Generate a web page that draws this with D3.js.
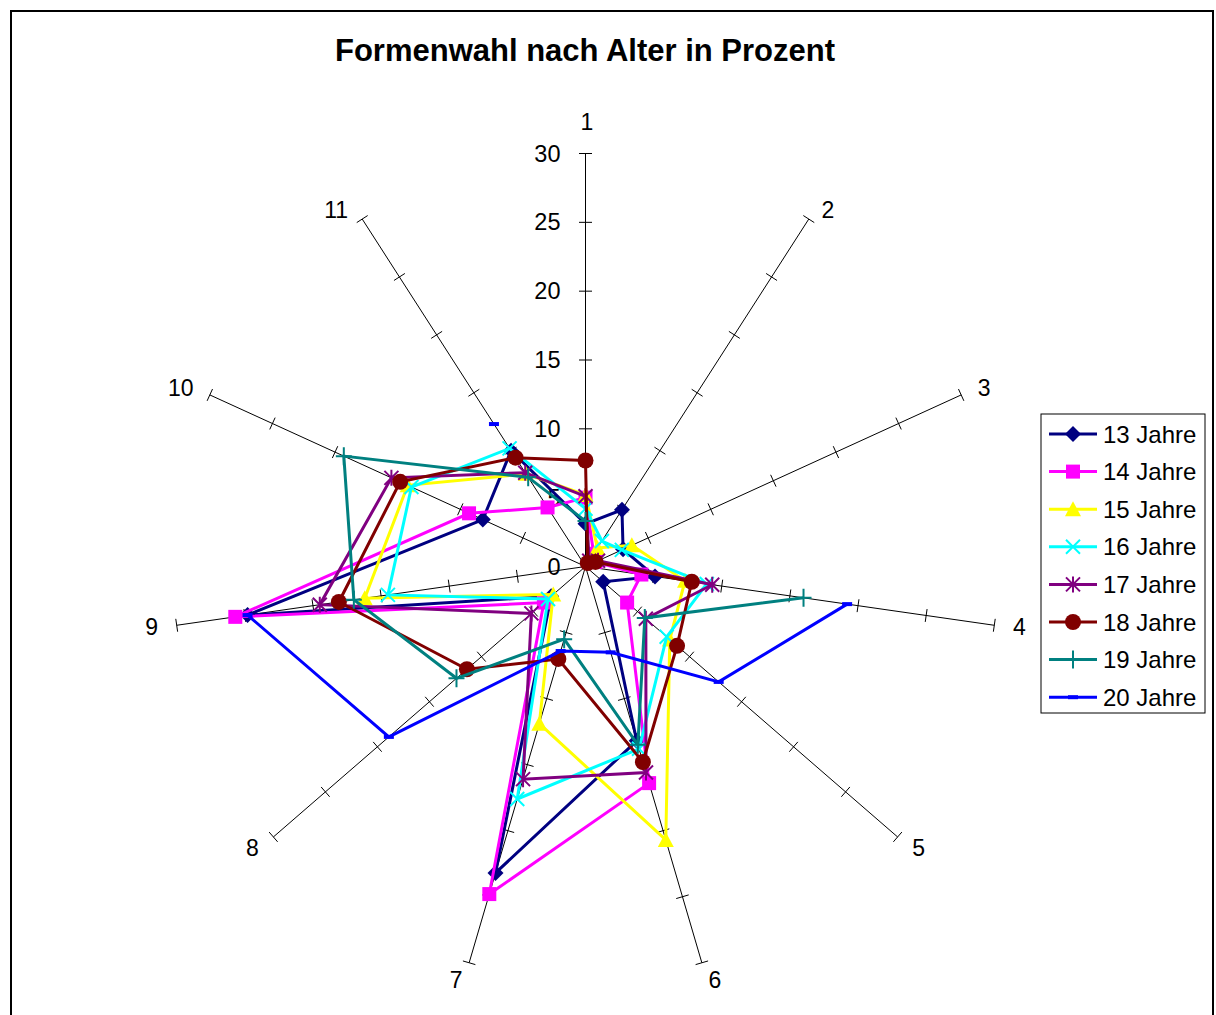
<!DOCTYPE html>
<html>
<head>
<meta charset="utf-8">
<script src="https://cdn.jsdelivr.net/npm/d3@7"></script>
<style>
  html, body { margin: 0; padding: 0; background: #fff; }
  svg { display: block; }
  text { font-family: "Liberation Sans", Arial, sans-serif; }
</style>
</head>
<body>
<svg id="chart" width="1216" height="1015"></svg>
<script>
const categories = ["1", "2", "3", "4", "5", "6", "7", "8", "9", "10", "11"];
const tickValues = [0, 5, 10, 15, 20, 25, 30];
const seriesNames = ["13 Jahre", "14 Jahre", "15 Jahre", "16 Jahre", "17 Jahre", "18 Jahre", "19 Jahre", "20 Jahre"];
const s13 = [3.1, 4.9, 3.0, 5.1, 1.7, 13.2, 23.2, 3.3, 24.8, 8.2, 10.0];
const s14 = [5.0, 1.1, 0.8, 4.1, 4.0, 16.4, 24.8, 4.0, 25.7, 9.3, 5.1];
const s15 = [5.2, 1.6, 3.7, 7.3, 8.1, 20.7, 11.9, 3.1, 16.2, 14.2, 8.0];
const s16 = [4.2, 2.2, 2.9, 8.9, 7.8, 13.8, 17.6, 3.6, 14.5, 13.9, 10.2];
const s17 = [5.1, 0.5, 1.0, 9.3, 5.8, 15.6, 16.1, 5.2, 19.5, 15.5, 8.1];
const s18 = [7.7, 0.3, 0.8, 7.8, 8.8, 14.8, 7.0, 11.4, 18.1, 14.8, 9.4];
const s19 = [3.3, null, null, 16.0, 5.7, 13.5, 5.5, 12.4, 17.0, 19.3, 7.7];
const s20 = [null, null, null, 19.2, 12.8, 6.5, 6.4, 18.9, 24.8, null, 12.3];
const seriesValues = [s13, s14, s15, s16, s17, s18, s19, s20];
const colors = ["#000080", "#FF00FF", "#FFFF00", "#00FFFF", "#800080", "#800000", "#008080", "#0000FF"];
const markers = ["diamond", "square", "triangle", "x", "asterisk", "circle", "plus", "dash"];

// layout: category label offsets from the spoke ends (px)
const labelOffsets = [[1.5, -31.5], [19, -9], [23, -7], [25, 2], [21, 11], [13, 17],
                      [-13, 17], [-21, 11], [-25, 2], [-29, -7], [-26, -9]];

const svg = d3.select("#chart");
const cx = 585.5, cy = 566.5, R = 413;

svg.append("rect").attr("x", 11).attr("y", 11).attr("width", 1202).attr("height", 1040)
  .attr("fill", "none").attr("stroke", "#000").attr("stroke-width", 2);

svg.append("text").attr("x", 585).attr("y", 50).attr("text-anchor", "middle")
  .attr("dominant-baseline", "central").attr("font-size", 31).attr("font-weight", "bold")
  .text("Formenwahl nach Alter in Prozent");

const r = d3.scaleLinear().domain([0, 30]).range([0, R]);
const angle = d3.scaleLinear().domain([0, categories.length]).range([0, 2 * Math.PI]);
const px = (i, v) => cx + r(v) * Math.sin(angle(i));
const py = (i, v) => cy - r(v) * Math.cos(angle(i));

const g = svg.append("g");

categories.forEach((c, i) => {
  g.append("line").attr("x1", cx).attr("y1", cy).attr("x2", px(i, 30)).attr("y2", py(i, 30))
    .attr("stroke", "#000").attr("stroke-width", 1);
  tickValues.slice(1).forEach(t => {
    const a = angle(i);
    const x = px(i, t), y = py(i, t);
    const nx = Math.cos(a) * 6.5, ny = Math.sin(a) * 6.5;
    g.append("line").attr("x1", x - nx).attr("y1", y - ny).attr("x2", x + nx).attr("y2", y + ny)
      .attr("stroke", "#000").attr("stroke-width", 1);
  });
  g.append("text")
    .attr("x", px(i, 30) + labelOffsets[i][0])
    .attr("y", py(i, 30) + labelOffsets[i][1])
    .attr("text-anchor", "middle").attr("dominant-baseline", "central")
    .attr("font-size", 23).text(c);
});

tickValues.forEach(t => {
  g.append("text").attr("x", cx - 25).attr("y", py(0, t)).attr("text-anchor", "end")
    .attr("dominant-baseline", "central").attr("font-size", 23.5).text(t);
});

function drawMarker(sel, type, color, x, y) {
  const gg = sel.append("g").attr("transform", `translate(${x},${y})`);
  const S = 7;
  if (type === "diamond") {
    gg.append("path").attr("d", `M0,${-S - 1}L${S + 1},0L0,${S + 1}L${-S - 1},0Z`).attr("fill", color);
  } else if (type === "square") {
    gg.append("rect").attr("x", -S).attr("y", -S).attr("width", 2 * S).attr("height", 2 * S).attr("fill", color);
  } else if (type === "triangle") {
    gg.append("path").attr("d", `M0,${-S - 1}L${S + 1},${S}L${-S - 1},${S}Z`).attr("fill", color);
  } else if (type === "circle") {
    gg.append("circle").attr("r", S + 1).attr("fill", color);
  } else if (type === "x") {
    gg.append("path").attr("d", `M${-S},${-S}L${S},${S}M${-S},${S}L${S},${-S}`).attr("stroke", color).attr("stroke-width", 2);
  } else if (type === "asterisk") {
    gg.append("path").attr("d", `M${-S},${-S}L${S},${S}M${-S},${S}L${S},${-S}M0,${-S - 1}L0,${S + 1}`).attr("stroke", color).attr("stroke-width", 2);
  } else if (type === "plus") {
    gg.append("path").attr("d", `M${-S - 1},0L${S + 1},0M0,${-S - 2}L0,${S + 2}`).attr("stroke", color).attr("stroke-width", 2);
  } else if (type === "dash") {
    gg.append("path").attr("d", `M${-5},0L5,0`).attr("stroke", color).attr("stroke-width", 4);
  }
}

const lineGen = d3.lineRadial()
  .angle(d => angle(d.i))
  .radius(d => r(d.v))
  .defined(d => d.v != null);

seriesValues.forEach((vals, si) => {
  const pts = vals.map((v, i) => ({ i, v }));
  pts.push({ i: categories.length, v: vals[0] });
  const sg = svg.append("g");
  sg.append("path").attr("transform", `translate(${cx},${cy})`)
    .attr("d", lineGen(pts)).attr("fill", "none")
    .attr("stroke", colors[si]).attr("stroke-width", 3).attr("stroke-linejoin", "miter");
  vals.forEach((v, i) => {
    if (v == null) return;
    drawMarker(sg, markers[si], colors[si], px(i, v), py(i, v));
  });
});

const lg = svg.append("g");
lg.append("rect").attr("x", 1041).attr("y", 414).attr("width", 164).attr("height", 299)
  .attr("fill", "#fff").attr("stroke", "#000").attr("stroke-width", 1);
seriesNames.forEach((n, si) => {
  const y = 434 + si * 37.6;
  lg.append("line").attr("x1", 1049).attr("x2", 1097).attr("y1", y).attr("y2", y)
    .attr("stroke", colors[si]).attr("stroke-width", 3);
  drawMarker(lg, markers[si], colors[si], 1073, y);
  lg.append("text").attr("x", 1103).attr("y", y).attr("dominant-baseline", "central")
    .attr("font-size", 24).text(n);
});
</script>
</body>
</html>
